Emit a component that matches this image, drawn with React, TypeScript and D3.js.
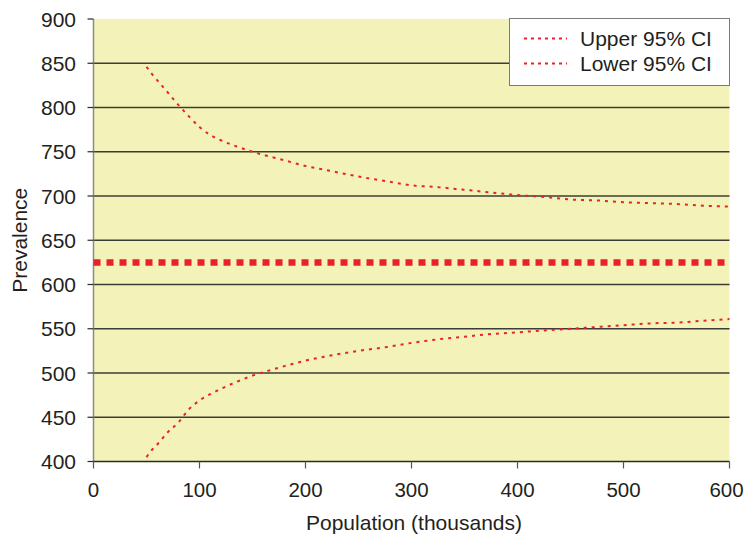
import React from 'react';
import * as d3 from 'd3';

// population in thousands
const population = [50, 55, 60, 70, 80, 90, 100, 110, 120, 135, 150, 175, 200, 225, 250, 275, 300, 325, 350, 375, 400, 425, 450, 475, 500, 525, 550, 575, 600];
const upperCI = [846, 838, 831, 817, 803, 790, 778, 769, 763, 756, 750, 742, 734, 728, 722, 717, 712, 710, 707, 704, 701, 699, 696, 695, 693, 692, 691, 689, 688];
const lowerCI = [405, 413, 419, 433, 444, 459, 469, 476, 482, 490, 497, 506, 514, 520, 525, 529, 534, 538, 541, 544, 546, 548, 550, 552, 554, 556, 557, 559, 561];
const meanValue = 625;
const xTicks = [0, 100, 200, 300, 400, 500, 600];
const yTicks = [400, 450, 500, 550, 600, 650, 700, 750, 800, 850, 900];
const legendLabels = ['Upper 95% CI', 'Lower 95% CI'];

const width = 745;
const height = 539;
const plot = {left: 93.5, right: 729.5, top: 19, bottom: 461.5};
const red = '#ea2129';
const textColor = '#231f20';
const font = '"Liberation Sans", Arial, sans-serif';

export default function App() {
    const x = d3.scaleLinear().domain([0, 600]).range([plot.left, plot.right]);
    const y = d3.scaleLinear().domain([400, 900]).range([plot.bottom, plot.top]);

    const line = d3.line<[number, number]>()
        .x(d => x(d[0]))
        .y(d => y(d[1]))
        .curve(d3.curveMonotoneX);
    const upperPath = line(population.map((p, i) => [p, upperCI[i]]));
    const lowerPath = line(population.map((p, i) => [p, lowerCI[i]]));

    const legendX = 509.5;
    const legendY = 18.5;

    return (
        <div style={{position: 'absolute', left: 0, top: 0}}>
            <svg width={width} height={height} style={{display: 'block', background: '#fff'}} fontFamily={font}>
                <rect x={plot.left} y={plot.top} width={plot.right - plot.left} height={plot.bottom - plot.top} fill="#f3f3b9"/>
                {/* grid lines */}
                {yTicks.filter(t => t > 400 && t < 900).map(t => (
                    <line key={'g' + t} x1={plot.left} x2={plot.right} y1={y(t)} y2={y(t)} stroke="#3d3d38" strokeWidth={1.4}/>
                ))}
                {/* axes */}
                <line x1={plot.left} x2={plot.left} y1={plot.top} y2={plot.bottom} stroke="#8a8a86" strokeWidth={1.5}/>
                <line x1={plot.left} x2={plot.right} y1={plot.bottom} y2={plot.bottom} stroke="#2a2a2a" strokeWidth={1.5}/>
                {yTicks.map(t => (
                    <g key={'y' + t}>
                        <line x1={plot.left - 6} x2={plot.left} y1={y(t)} y2={y(t)} stroke="#2a2a2a" strokeWidth={1.2}/>
                        <text x={76} y={y(t)} dy="0.36em" textAnchor="end" fontSize={21} fill={textColor}>{t}</text>
                    </g>
                ))}
                {xTicks.map(t => (
                    <g key={'x' + t}>
                        <line x1={x(t)} x2={x(t)} y1={plot.bottom} y2={plot.bottom + 7} stroke="#555" strokeWidth={1.2}/>
                        <text x={Math.min(x(t), width - 18.5)} y={497} textAnchor="middle" fontSize={20.5} fill={textColor}>{t}</text>
                    </g>
                ))}
                <text x={414} y={530} textAnchor="middle" fontSize={21} fill={textColor}>Population (thousands)</text>
                <text transform={`translate(27, ${(plot.top + plot.bottom) / 2}) rotate(-90)`} textAnchor="middle" fontSize={21} fill={textColor}>Prevalence</text>
                {/* mean line */}
                <line x1={x(0)} x2={x(600)} y1={y(meanValue)} y2={y(meanValue)} stroke={red} strokeWidth={6.5} strokeDasharray="7,6"/>
                {/* confidence limits */}
                <path d={upperPath || ''} fill="none" stroke={red} strokeWidth={2} strokeDasharray="3,5"/>
                <path d={lowerPath || ''} fill="none" stroke={red} strokeWidth={2} strokeDasharray="3,5"/>
                {/* legend */}
                <rect x={legendX} y={legendY} width={220} height={67} fill="#fff" stroke="#7a7a7a" strokeWidth={1}/>
                {legendLabels.map((label, i) => (
                    <g key={label}>
                        <line x1={524} x2={567} y1={38.5 + i * 25} y2={38.5 + i * 25} stroke={red} strokeWidth={2} strokeDasharray="3,4"/>
                        <text x={580} y={38.5 + i * 25} dy="0.36em" fontSize={21} fill={textColor}>{label}</text>
                    </g>
                ))}
            </svg>
        </div>
    );
}
